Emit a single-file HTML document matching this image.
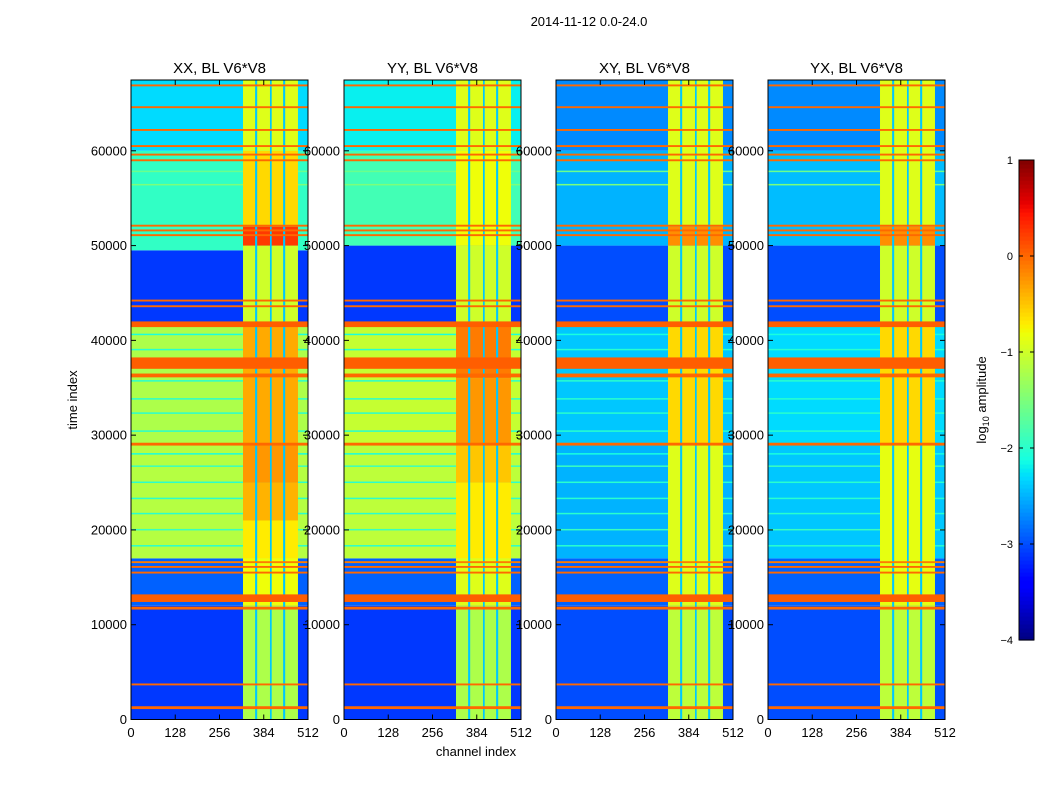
<!DOCTYPE html>
<html><head><meta charset="utf-8">
<style>
body{margin:0;background:#fff;}
svg{display:block;font-family:"Liberation Sans",sans-serif;}
</style></head>
<body>
<svg id="fig" width="1050" height="800">
<rect width="1050" height="800" fill="#fff"/>
<text x="589" y="26" font-size="13" text-anchor="middle">2014-11-12 0.0-24.0</text>
<text transform="translate(77,400) rotate(-90)" font-size="13" text-anchor="middle">time index</text>
<text x="476" y="756" font-size="13" text-anchor="middle">channel index</text>
<g id="panels"></g>
<g id="cbar"></g>
</svg>
<script>
// ---- data ----
const panelTitles = ["XX, BL V6*V8","YY, BL V6*V8","XY, BL V6*V8","YX, BL V6*V8"];
const panelX = [131,344,556,768];
const yTicks = [0,10000,20000,30000,40000,50000,60000];
const xTicks = [0,128,256,384,512];
const cbarTicks = [1,0,-1,-2,-3,-4];
// background bands per panel: [t0, t1, log10 amplitude]
const bandsXX = [[0,12000,-3.1],[12000,17000,-2.9],[17000,29000,-1.15],[29000,41500,-1.2],[41500,49500,-3.1],[49500,60000,-1.95],[60000,67500,-2.3]];
const bandsYY = [[0,12000,-3.1],[12000,17000,-2.9],[17000,29000,-1.1],[29000,41500,-1.05],[41500,50000,-3.1],[50000,60000,-1.85],[60000,67500,-2.2]];
const bandsXY = [[0,12000,-3.0],[12000,17000,-2.9],[17000,29000,-2.5],[29000,41500,-2.4],[41500,50000,-3.0],[50000,60000,-2.5],[60000,67500,-2.7]];
const bandsYX = [[0,12000,-3.0],[12000,17000,-2.9],[17000,29000,-2.4],[29000,41500,-2.3],[41500,50000,-3.0],[50000,60000,-2.45],[60000,67500,-2.7]];
// strip region bands (channels 324-483)
const stripXX = [[0,12000,-1.2],[12000,17000,-0.8],[17000,21000,-0.7],[21000,25000,-0.4],[25000,29000,-0.25],[29000,41500,-0.35],[41500,50000,-1.0],[50000,52000,0.25],[52000,60000,-0.6],[60000,67500,-0.9]];
const stripYY = [[0,12000,-1.2],[12000,17000,-0.9],[17000,25000,-0.7],[25000,29000,-0.5],[29000,36000,-0.25],[36000,41500,-0.1],[41500,50000,-1.0],[50000,60000,-0.8],[60000,67500,-0.9]];
const stripXY = [[0,12000,-1.1],[12000,29000,-0.9],[29000,41500,-0.6],[41500,50000,-1.0],[50000,52000,-0.2],[52000,67500,-0.9]];
const stripYX = [[0,12000,-1.1],[12000,29000,-0.85],[29000,41500,-0.6],[41500,50000,-1.0],[50000,52000,-0.2],[52000,67500,-0.9]];
const panelBands = [bandsXX,bandsYY,bandsXY,bandsYX];
const panelStrips = [stripXX,stripYY,stripXY,stripYX];
const stripRange = [324,483];
// vertical low-amplitude gaps inside strip: [c0,c1,value]
const gapChannels = [[359,365,-2.4],[402,407,-2.4],[440,446,-2.4]];
// cyan horizontal lines in band regions: [t, value]
const cyanLines = [[18300,-2.0],[20000,-1.9],[21700,-2.0],[23300,-2.0],[25000,-2.0],[26700,-1.9],[28000,-2.1],[30400,-2.0],[32300,-2.0],[33800,-2.0],[35700,-2.0],[39000,-2.0],[40600,-2.1],[56400,-1.5],[57800,-1.6]];
// orange RFI lines: [t0, t1, value]
const rfiLines = [[1100,1400,0.0],[3600,3800,0.0],[11600,11900,0.0],[12400,13200,0.05],[15400,15600,0.0],[16000,16200,0.0],[16500,16700,-0.1],[28900,29200,0.0],[36100,36500,0.0],[37000,38200,0.05],[41400,42000,0.05],[43500,43700,0.0],[44100,44300,0.0],[51000,51200,0.0],[51500,51700,0.0],[52000,52200,0.0],[58900,59100,0.0],[59500,59700,0.0],[60400,60600,0.0],[62100,62300,0.0],[64500,64700,0.0],[66800,67000,0.0]];
// ---- scales ----
const tMax = 67470, pw = 177, y0 = 719.5, yTop = 80;
function ys(t){return y0 - t/tMax*(y0-yTop);}
function xs(p,c){return panelX[p] + c/512*pw;}
function jet(v){
  let x=(v+4)/5; x=Math.max(0,Math.min(1,x));
  function pl(pts){for(let i=1;i<pts.length;i++){if(x<=pts[i][0]){const a=pts[i-1],b=pts[i];return a[1]+(b[1]-a[1])*(x-a[0])/(b[0]-a[0]);}}return pts[pts.length-1][1];}
  const r=pl([[0,0],[0.35,0],[0.66,1],[0.89,1],[1,0.5]]);
  const g=pl([[0,0],[0.125,0],[0.375,1],[0.64,1],[0.91,0],[1,0]]);
  const b=pl([[0,0.5],[0.11,1],[0.34,1],[0.65,0],[1,0]]);
  return `rgb(${Math.round(r*255)},${Math.round(g*255)},${Math.round(b*255)})`;
}
const NS="http://www.w3.org/2000/svg";
function mk(tag,attrs,parent){const e=document.createElementNS(NS,tag);for(const k in attrs)e.setAttribute(k,attrs[k]);parent.appendChild(e);return e;}
const root=document.getElementById('panels');
panelTitles.forEach((title,p)=>{
  const g=mk('g',{},root);
  
  
  const x0=panelX[p];
  panelBands[p].forEach(b=>{
    const r=mk('rect',{x:x0,y:ys(b[1]),width:pw,height:ys(b[0])-ys(b[1]),fill:jet(b[2])},g);
    
    
  });
  cyanLines.forEach(l=>{
    const r=mk('rect',{x:x0,y:ys(l[0])-1,width:pw,height:1.5,fill:jet(l[1])},g);
    
    
  });
  panelStrips[p].forEach(b=>{
    const r=mk('rect',{x:xs(p,stripRange[0]),y:ys(b[1]),width:xs(p,stripRange[1])-xs(p,stripRange[0]),height:ys(b[0])-ys(b[1]),fill:jet(b[2])},g);
    
    
  });
  gapChannels.forEach(c=>{
    const r=mk('rect',{x:xs(p,c[0]),y:yTop,width:xs(p,c[1])-xs(p,c[0]),height:y0-yTop,fill:jet(c[2])},g);
    
    
  });
  rfiLines.forEach(l=>{
    const r=mk('rect',{x:x0,y:ys(l[1]),width:pw,height:Math.max(1.5,ys(l[0])-ys(l[1])),fill:jet(l[2])},g);
    
    
  });
  const fr=mk('rect',{x:x0,y:yTop,width:pw,height:y0-yTop,fill:'none',stroke:'#000','stroke-width':1},g);
  
  
  const tt=mk('text',{x:x0+pw/2,y:73,'font-size':15,'text-anchor':'middle'},g);
  tt.textContent=title;
  
  
  yTicks.forEach(t=>{
    const y=ys(t);
    mk('line',{x1:x0,x2:x0+5,y1:y,y2:y,stroke:'#000'},g);
    mk('line',{x1:x0+pw,x2:x0+pw-5,y1:y,y2:y,stroke:'#000'},g);
    const lb=mk('text',{x:x0-4,y:y+4.5,'font-size':13,'text-anchor':'end'},g);
    lb.textContent=t;
    
    
  });
  xTicks.forEach(c=>{
    const x=xs(p,c);
    mk('line',{x1:x,x2:x,y1:y0,y2:y0-5,stroke:'#000'},g);
    mk('line',{x1:x,x2:x,y1:yTop,y2:yTop+5,stroke:'#000'},g);
    const lb=mk('text',{x:x,y:737,'font-size':13,'text-anchor':'middle'},g);
    lb.textContent=c;
    
    
  });
});
// colorbar
const cb=document.getElementById('cbar');


const cbX=1019,cbW=15,cbTop=160,cbBot=640;
for(let i=0;i<120;i++){
  const v=-4+5*(i+0.5)/120;
  const y=cbBot-(i+1)*(cbBot-cbTop)/120;
  mk('rect',{x:cbX,y:y,width:cbW,height:(cbBot-cbTop)/120+0.6,fill:jet(v)},cb);
}
mk('rect',{x:cbX,y:cbTop,width:cbW,height:cbBot-cbTop,fill:'none',stroke:'#000'},cb);
cbarTicks.forEach(v=>{
  const y=cbBot-(v+4)/5*(cbBot-cbTop);
  mk('line',{x1:cbX,x2:cbX+4,y1:y,y2:y,stroke:'#000'},cb);
  mk('line',{x1:cbX+cbW,x2:cbX+cbW-4,y1:y,y2:y,stroke:'#000'},cb);
  const lb=mk('text',{x:1013,y:y+4,'font-size':11,'text-anchor':'end'},cb);
  lb.textContent=v<0?'\u2212'+(-v):String(v);
  
  
});
const cl=mk('text',{transform:'translate(986,400) rotate(-90)','font-size':13,'text-anchor':'middle'},cb);
cl.innerHTML='log<tspan font-size="9" dy="3">10</tspan><tspan dy="-3"> amplitude</tspan>';


</script>
</body></html>
